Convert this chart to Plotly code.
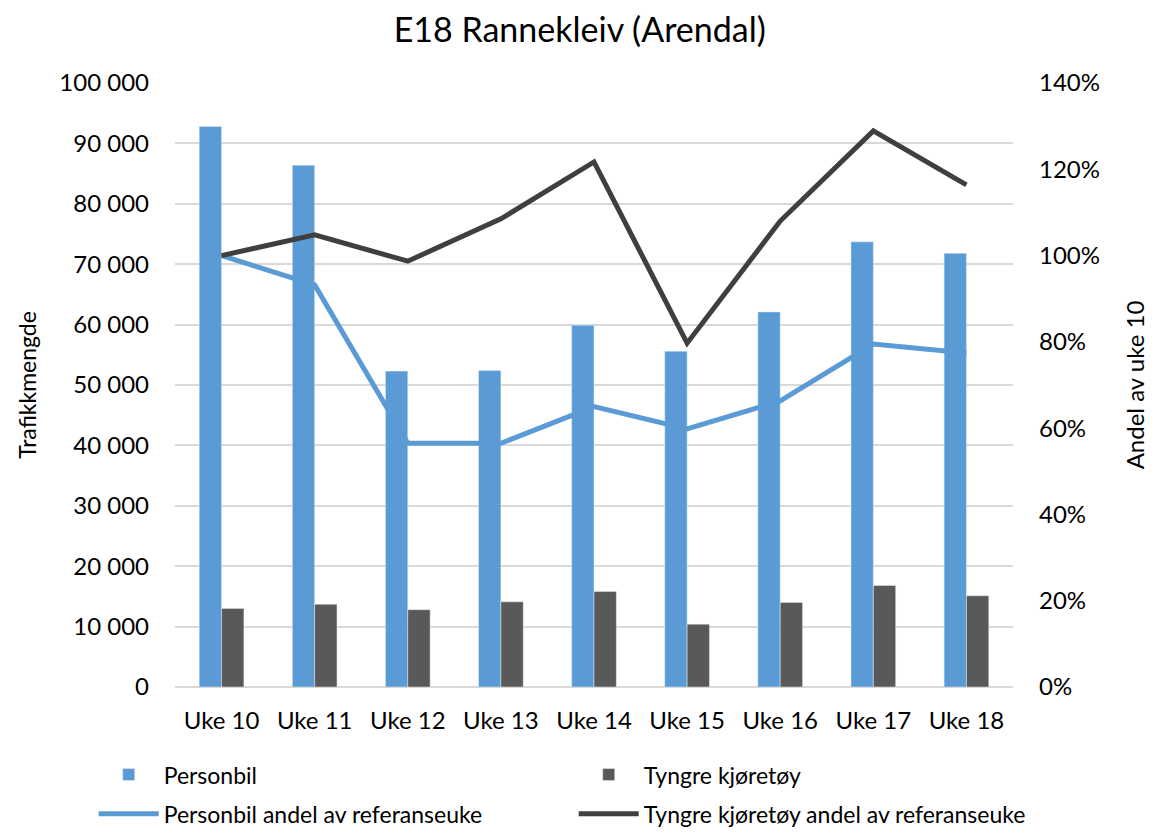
import plotly.graph_objects as go

weeks = ["Uke 10", "Uke 11", "Uke 12", "Uke 13", "Uke 14", "Uke 15", "Uke 16", "Uke 17", "Uke 18"]
personbil = [92800, 86400, 52300, 52400, 59900, 55600, 62100, 73700, 71800]
tyngre = [13000, 13700, 12800, 14100, 15800, 10400, 14000, 16800, 15100]
personbil_andel = [1.00, 0.932, 0.565, 0.565, 0.65, 0.598, 0.663, 0.795, 0.774]
tyngre_andel = [1.00, 1.048, 0.987, 1.085, 1.217, 0.797, 1.08, 1.289, 1.164]

BLUE = "#5B9BD5"
DARK = "#595959"
LINE_DARK = "#3F3F3F"
FONT = "Lato"

fig = go.Figure()
fig.add_trace(go.Bar(x=weeks, y=personbil, name="Personbil", marker_color=BLUE, legend="legend"))
fig.add_trace(go.Bar(x=weeks, y=tyngre, name="Tyngre kjøretøy", marker_color=DARK, legend="legend"))
fig.add_trace(go.Scatter(x=weeks, y=personbil_andel, name="Personbil andel av referanseuke",
                         mode="lines", line=dict(color=BLUE, width=5), yaxis="y2", legend="legend2"))
fig.add_trace(go.Scatter(x=weeks, y=tyngre_andel, name="Tyngre kjøretøy andel av referanseuke",
                         mode="lines", line=dict(color=LINE_DARK, width=5), yaxis="y2", legend="legend2"))

legend_common = dict(orientation="h", x=-0.097, xanchor="left", yanchor="middle",
                     entrywidth=405, entrywidthmode="pixels", font=dict(size=23),
                     traceorder="normal", itemwidth=60, bgcolor="rgba(0,0,0,0)")

fig.update_layout(
    width=1155, height=839,
    paper_bgcolor="white", plot_bgcolor="white",
    margin=dict(l=167, r=150, t=75, b=160),
    separators=", ",
    font=dict(family=FONT, size=23, color="black"),
    title=dict(text="E18 Rannekleiv (Arendal)", x=0.495, xanchor="center", y=0.974, yanchor="middle",
               font=dict(family=FONT, size=34, color="black")),
    barmode="group", bargap=0.52, bargroupgap=0,
    xaxis=dict(showgrid=False, showline=False, ticks="", tickfont=dict(size=24),
               ticklabelstandoff=17),
    yaxis=dict(range=[0, 100000], dtick=10000, tickformat=",d", showgrid=True,
               gridcolor="#D9D9D9", gridwidth=1.5, zeroline=True, zerolinecolor="#D9D9D9",
               zerolinewidth=1.5, ticks="", ticklabelstandoff=25, tickfont=dict(size=24),
               title=dict(text="Trafikkmengde", font=dict(size=23), standoff=16)),
    yaxis2=dict(range=[0, 1.4], dtick=0.2, tickformat=".0%", overlaying="y", side="right",
                showgrid=False, zeroline=False, ticks="", ticklabelstandoff=25, tickfont=dict(size=24),
                title=dict(text="Andel av uke 10", font=dict(size=24), standoff=28)),
    legend=dict(legend_common, y=-0.145),
    legend2=dict(legend_common, y=-0.21),
)

fig.write_html("out.html")
